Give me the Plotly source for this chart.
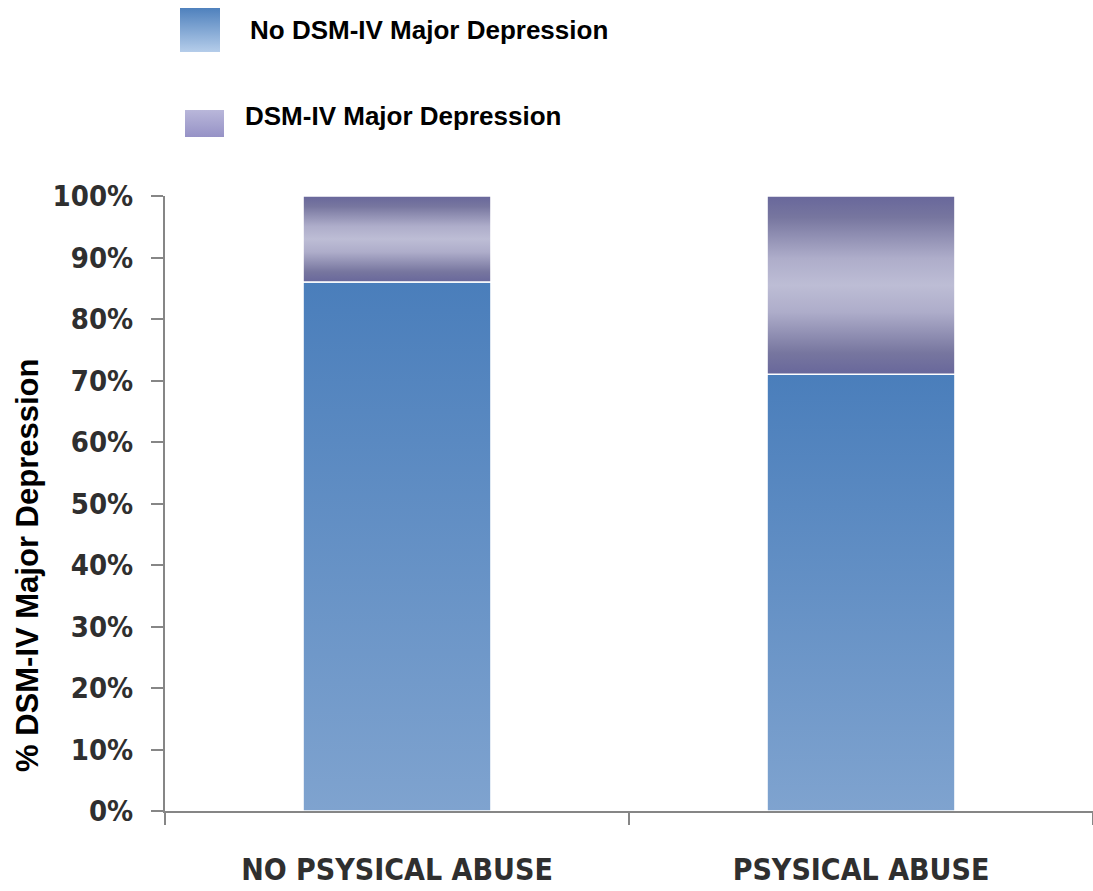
import plotly.graph_objects as go

# Data: share of respondents (%) by abuse history
categories = ["NO PSYSICAL ABUSE", "PSYSICAL ABUSE"]
series_names = ["No DSM-IV Major Depression", "DSM-IV Major Depression"]
no_depression = [86, 71]
depression = [14, 29]
y_ticks = list(range(0, 101, 10))
y_tick_text = [f"{v}%" for v in y_ticks]
y_title = "% DSM-IV Major Depression"

# Styling
BAR_WIDTH = 0.405
BLUE_SCALE = [[0, "#7fa3cf"], [1, "#4a7ebb"]]
PURPLE_SCALE = [[0, "#68679b"], [0.12, "#77769f"], [0.35, "#aeadca"],
                [0.5, "#bdbdd5"], [0.65, "#aeadca"], [0.88, "#77769f"], [1, "#68679b"]]
AXIS_GRAY = "#868686"
TICK_FONT = "Liberation Sans Narrow, DejaVu Sans Condensed, Arial Narrow, sans-serif"
TEXT_FONT = "Liberation Sans, Arial, sans-serif"

fig = go.Figure()


def segment(xc, base, height, scale):
    x0, x1 = xc - BAR_WIDTH / 2, xc + BAR_WIDTH / 2
    y0, y1 = base, base + height
    return go.Scatter(
        x=[x0, x1, x1, x0, x0], y=[y0, y0, y1, y1, y0],
        mode="lines", fill="toself",
        line=dict(color="white", width=1.5),
        fillgradient=dict(type="vertical", colorscale=scale),
        hoverinfo="skip", showlegend=False,
    )


for i, cat in enumerate(categories):
    fig.add_trace(segment(i, 0, no_depression[i], BLUE_SCALE))
    fig.add_trace(segment(i, no_depression[i], depression[i], PURPLE_SCALE))

# Legend swatches drawn on a pixel-space overlay
swatches = [
    dict(x0=180, x1=220, y0=8, y1=52, scale=[[0, "#b5cdea"], [1, "#4f81bd"]], tx=248, ty=30),
    dict(x0=185, x1=224, y0=110, y1=137, scale=[[0, "#9692c6"], [1, "#b9b7da"]], tx=243, ty=116),
]
for name, sw in zip(series_names, swatches):
    fig.add_trace(go.Scatter(
        x=[sw["x0"], sw["x1"], sw["x1"], sw["x0"], sw["x0"]],
        y=[sw["y1"], sw["y1"], sw["y0"], sw["y0"], sw["y1"]],
        xaxis="x2", yaxis="y2", mode="lines", fill="toself",
        line=dict(width=0, color="rgba(0,0,0,0)"),
        fillgradient=dict(type="vertical", colorscale=sw["scale"]),
        hoverinfo="skip", showlegend=False,
    ))
    fig.add_annotation(
        x=sw["tx"], y=sw["ty"], xref="x2", yref="y2", text=name,
        showarrow=False, xanchor="left", yanchor="middle",
        font=dict(family=TEXT_FONT, size=26, color="#000000", weight="bold"),
    )

# Vertical axis title (placed in the left margin)
PLOT_LEFT, PLOT_W, PLOT_H = 165, 928, 811
fig.add_annotation(
    x=(27 - PLOT_LEFT) / PLOT_W, y=(PLOT_H - 566) / PLOT_H, xref="paper", yref="paper",
    text=y_title, textangle=-90,
    showarrow=False, xanchor="center", yanchor="middle",
    font=dict(family=TEXT_FONT, size=31, color="#000000", weight="bold"),
)

fig.update_layout(
    width=1093, height=891,
    margin=dict(l=165, r=0, t=0, b=80),
    paper_bgcolor="white", plot_bgcolor="rgba(0,0,0,0)",
    showlegend=False,
    xaxis=dict(
        range=[-0.5, 1.5], tickmode="array", tickvals=list(range(len(categories))),
        ticktext=categories, ticks="", showgrid=False, zeroline=False,
        showline=True, linecolor=AXIS_GRAY, linewidth=2,
        tickfont=dict(family=TICK_FONT, size=30, color="#2f2f2f", weight="bold"),
        ticklabelstandoff=31, automargin=False,
        minor=dict(tickmode="array", tickvals=[-0.5, 0.5, 1.5], ticks="outside",
                   ticklen=12, tickwidth=2, tickcolor=AXIS_GRAY, showgrid=False),
        fixedrange=True,
    ),
    yaxis=dict(
        domain=[0, 615 / 811], range=[0, 100], tickmode="array", tickvals=y_ticks,
        ticktext=y_tick_text, ticks="outside", ticklen=12, tickwidth=2, tickcolor=AXIS_GRAY,
        showline=True, linecolor=AXIS_GRAY, linewidth=2, showgrid=False, zeroline=False,
        tickfont=dict(family=TICK_FONT, size=29, color="#2f2f2f", weight="bold"),
        ticklabelstandoff=12, automargin=False,
        fixedrange=True,
    ),
    xaxis2=dict(domain=[0, 1], range=[165, 1093], visible=False, fixedrange=True,
                automargin=False),
    yaxis2=dict(domain=[0, 1], range=[811, 0], visible=False, fixedrange=True,
                automargin=False),
)

fig.write_html("out.html")
